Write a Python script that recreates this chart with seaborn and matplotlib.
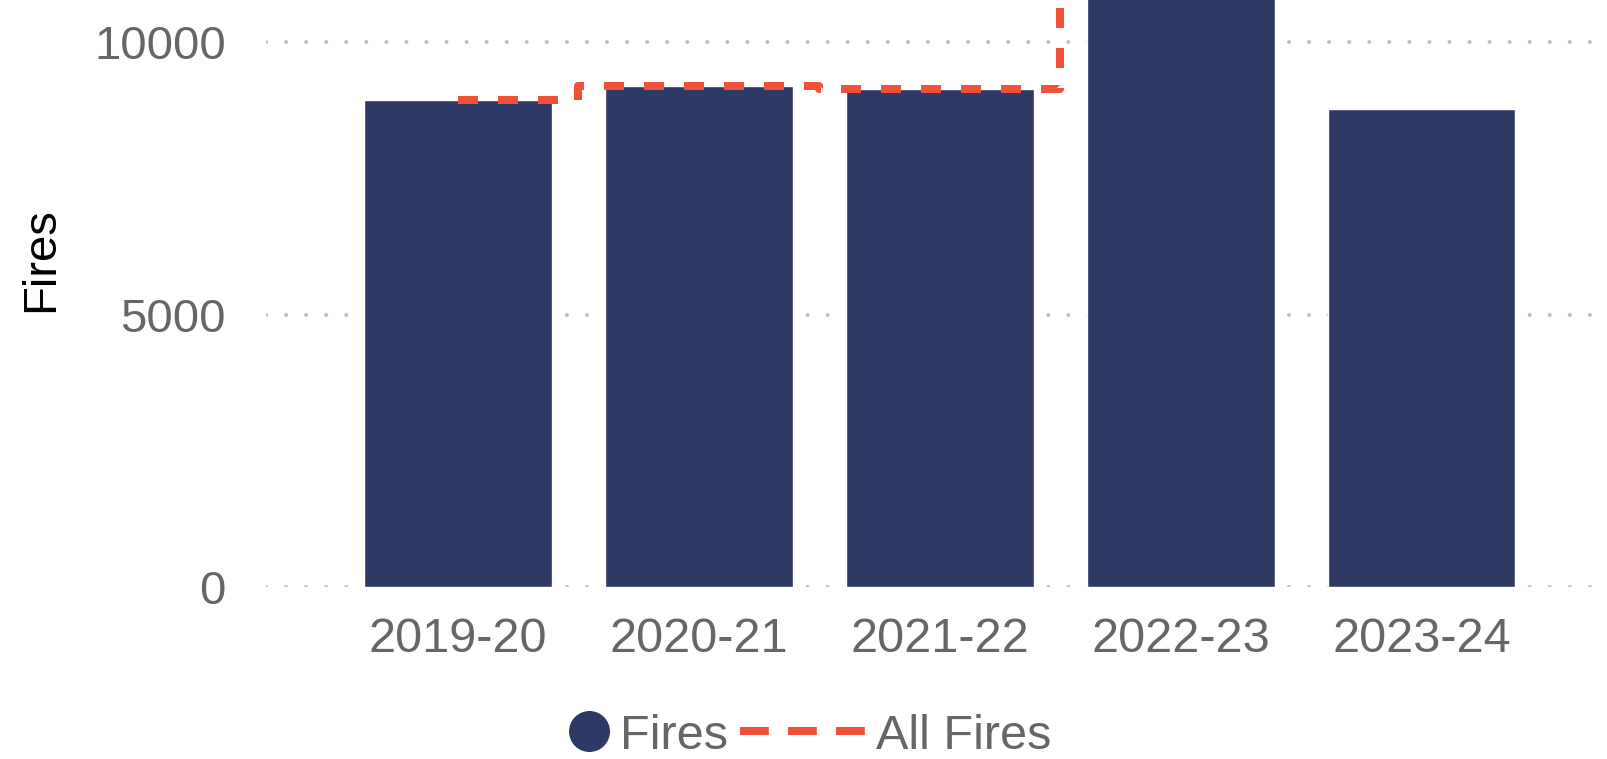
import numpy as np
import pandas as pd
import matplotlib
matplotlib.use("Agg")
import matplotlib.pyplot as plt
from matplotlib.lines import Line2D
import seaborn as sns

seasons = ["2019-20", "2020-21", "2021-22", "2022-23", "2023-24"]
fires = [8945, 9200, 9145, 11300, 8780]
all_fires = [8945, 9200, 9145, 11400, 11100]

bar_color = "#2E3966"
line_color = "#F05138"
text_grey = "#666666"

sns.set_style("white")
plt.rcParams["font.family"] = ["Liberation Sans", "DejaVu Sans"]

df = pd.DataFrame({"season": seasons, "fires": fires, "all_fires": all_fires})

fig = plt.figure(figsize=(16.07, 7.59), dpi=100)
ax = fig.add_axes([0.1655, 0.226, 0.8345, 0.774])

sns.barplot(data=df, x="season", y="fires", color=bar_color, saturation=1,
            width=0.78, ax=ax, zorder=2)

# step line, changes value halfway between categories
sns.lineplot(x=np.arange(len(seasons)), y=df["all_fires"], ax=ax,
             color=line_color, linewidth=5.76, drawstyle="steps-mid",
             linestyle=(0, (2.5, 2.5)), dash_capstyle="butt", zorder=3)

ax.set_xlim(-0.797, 4.77)
ax.set_ylim(0, 10771)
ax.set_yticks([0, 5000, 10000])
ax.yaxis.grid(True, color="#C0C0C0", linewidth=2.9,
              linestyle=(0, (0.01, 4.97)), dash_capstyle="round")
ax.set_axisbelow(True)
for s in ax.spines.values():
    s.set_visible(False)
ax.tick_params(axis="both", length=0, labelcolor=text_grey)
ax.tick_params(axis="y", pad=29, labelsize=34)
ax.tick_params(axis="x", pad=21, labelsize=35)
ax.set_xlabel("")
ax.set_ylabel("Fires", fontsize=34, color="black")
ax.yaxis.set_label_coords(-0.151, 0.559)

fs = 35
leg1 = fig.legend([Line2D([], [], marker="o", linestyle="none", color=bar_color, markersize=28.5)],
                  ["Fires"], loc="center left", bbox_to_anchor=(569.5 / 1607, 0.0303),
                  frameon=False, fontsize=fs, labelcolor=text_grey, borderpad=0,
                  borderaxespad=0, handlelength=0.8, handletextpad=0.24)
leg2 = fig.legend([Line2D([], [], color=line_color, linewidth=5.76, linestyle=(0, (3.6, 2.4)))],
                  ["All Fires"], loc="center left", bbox_to_anchor=(740 / 1607, 0.0303),
                  frameon=False, fontsize=fs, labelcolor=text_grey, borderpad=0,
                  borderaxespad=0, handlelength=2.6, handletextpad=0.2)

fig.savefig("out.png", dpi=100)
